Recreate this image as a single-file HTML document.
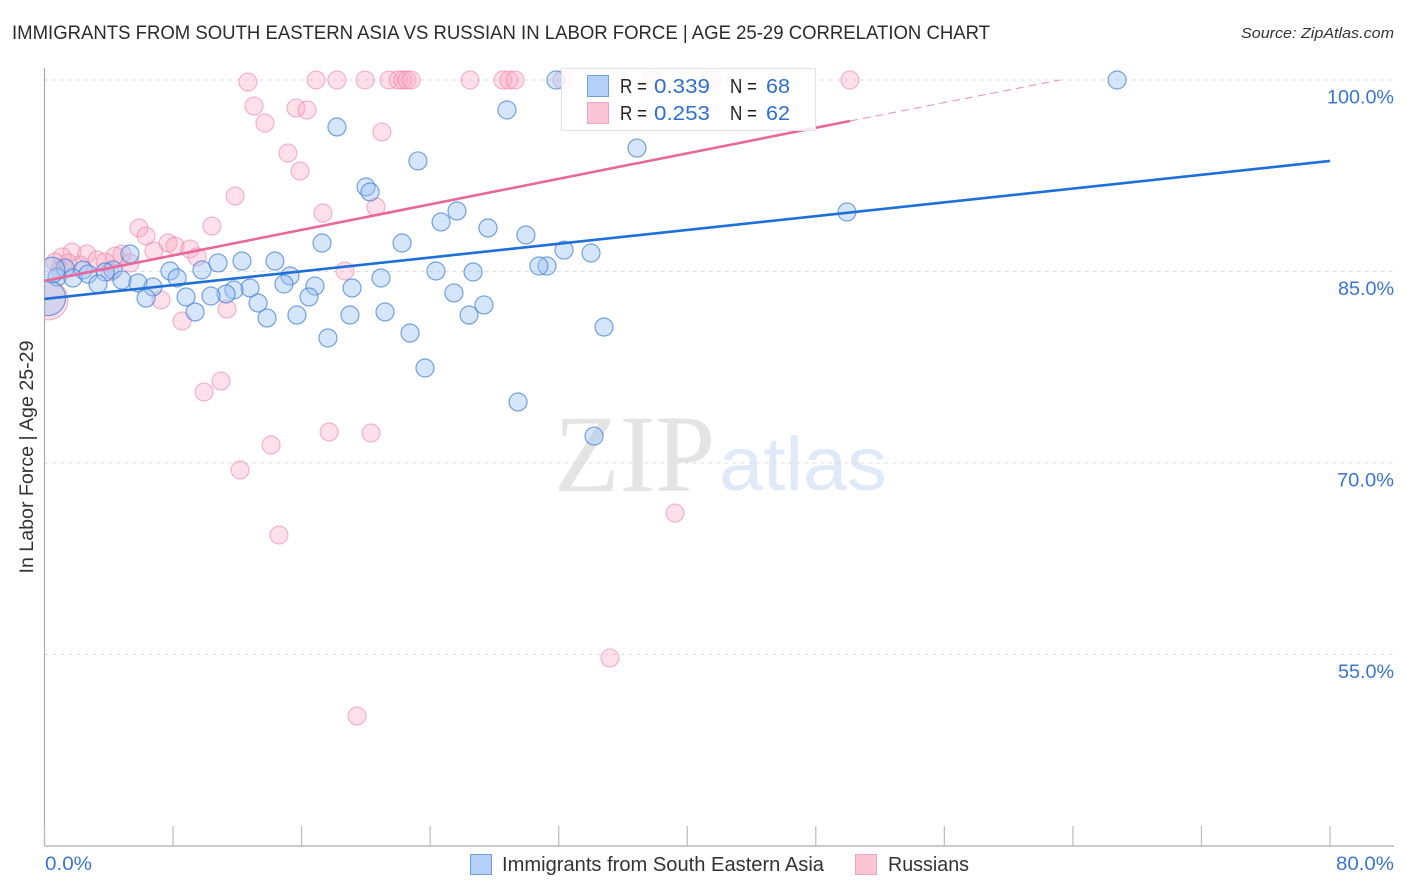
<!DOCTYPE html>
<html lang="en">
<head>
<meta charset="utf-8">
<title>Immigrants from South Eastern Asia vs Russian in Labor Force Correlation Chart</title>
<style>
html,body{margin:0;padding:0;background:#fff;width:1406px;height:892px;overflow:hidden}
svg{display:block;font-family:"Liberation Sans",sans-serif}
</style>
</head>
<body>
<svg id="chart" xmlns="http://www.w3.org/2000/svg" width="1406" height="892" viewBox="0 0 1406 892">
  <text x="12" y="39" font-size="19.5" fill="#2b2b2b" textLength="978" lengthAdjust="spacingAndGlyphs">IMMIGRANTS FROM SOUTH EASTERN ASIA VS RUSSIAN IN LABOR FORCE | AGE 25-29 CORRELATION CHART</text>
  <text x="1394" y="38" font-size="15" font-style="italic" fill="#333" text-anchor="end" textLength="153" lengthAdjust="spacingAndGlyphs">Source: ZipAtlas.com</text>
  <g>
    <text x="554" y="491" font-family="'Liberation Serif',serif" font-size="110" fill="#e4e4e4" textLength="161" lengthAdjust="spacingAndGlyphs">ZIP</text>
    <text x="719" y="490" font-size="76" fill="#dfe9f8" textLength="168" lengthAdjust="spacingAndGlyphs">atlas</text>
  </g>
  <g id="grid"></g>
  <g id="marks"></g>
  <rect x="0" y="60" width="44" height="786" fill="#fff"/>
  <g id="axes"></g>
  <g id="trends"></g>
  <g>
    <rect x="561.5" y="68.5" width="254" height="62" fill="#fff" fill-opacity="0.84" stroke="#e2e2e2" stroke-width="1"/>
    <rect x="587.5" y="75.5" width="21" height="21" fill="#b5d0f8" stroke="#6f9fdc"/>
    <rect x="587.5" y="102.5" width="21" height="21" fill="#fcc5d6" stroke="#f4a3bc"/>
    <g font-size="20">
      <text x="620" y="93" fill="#222" textLength="27" lengthAdjust="spacingAndGlyphs">R =</text>
      <text x="654" y="93" fill="#2f6fd0" textLength="56" lengthAdjust="spacingAndGlyphs">0.339</text>
      <text x="730" y="93" fill="#222" textLength="27" lengthAdjust="spacingAndGlyphs">N =</text>
      <text x="766" y="93" fill="#2f6fd0" textLength="24" lengthAdjust="spacingAndGlyphs">68</text>
      <text x="620" y="120" fill="#222" textLength="27" lengthAdjust="spacingAndGlyphs">R =</text>
      <text x="654" y="120" fill="#2f6fd0" textLength="56" lengthAdjust="spacingAndGlyphs">0.253</text>
      <text x="730" y="120" fill="#222" textLength="27" lengthAdjust="spacingAndGlyphs">N =</text>
      <text x="766" y="120" fill="#2f6fd0" textLength="24" lengthAdjust="spacingAndGlyphs">62</text>
    </g>
  </g>
  <text transform="translate(33,457) rotate(-90)" font-size="19" fill="#333" text-anchor="middle" textLength="233" lengthAdjust="spacingAndGlyphs">In Labor Force | Age 25-29</text>
  <g>
    <rect x="470.5" y="854.5" width="21" height="20" fill="#b5d0f8" stroke="#6f9fdc"/>
    <text x="502" y="871" font-size="20" fill="#333" textLength="322" lengthAdjust="spacingAndGlyphs">Immigrants from South Eastern Asia</text>
    <rect x="855.5" y="854.5" width="21" height="20" fill="#fcc5d6" stroke="#f4a3bc"/>
    <text x="888" y="871" font-size="20" fill="#333" textLength="81" lengthAdjust="spacingAndGlyphs">Russians</text>
  </g>
</svg>
<script>
const xTickValues = [0, 8, 16, 24, 32, 40, 48, 56, 64, 72, 80];
const xEdgeLabels = ["0.0%", "80.0%"];
const yTickValues = [100, 85, 70, 55];
const yTickLabels = ["100.0%", "85.0%", "70.0%", "55.0%"];

const blueX = [66.75,31.83,28.78,18.20,23.24,36.87,20.01,20.26,49.94,25.67,24.68,27.60,29.96,17.27,22.25,32.33,34.01,5.32,10.80,12.29,14.34,31.27,30.77,1.28,2.40,4.26,3.77,7.81,9.80,24.36,26.67,15.28,20.94,8.25,0.78,1.77,2.71,4.82,3.33,5.82,6.75,14.90,12.79,11.79,11.30,16.83,19.14,25.48,8.81,10.36,16.46,6.32,13.29,27.35,21.19,9.37,13.85,15.71,19.01,26.42,34.82,17.64,22.75,23.68,29.47,34.20,0.22,0.47];
const blueY = [100,100,97.65,96.32,93.66,94.67,91.62,91.23,89.66,89.74,88.88,88.41,87.86,87.23,87.23,86.68,86.45,86.37,85.67,85.82,85.82,85.43,85.43,85.27,85.12,85.12,84.96,85.04,85.12,85.04,84.96,84.65,84.49,84.49,84.57,84.49,84.80,84.33,84.02,84.10,83.79,84.02,83.71,83.55,83.24,83.86,83.71,83.32,83.00,83.08,83.00,82.92,82.53,82.38,81.83,81.83,81.36,81.59,81.59,81.59,80.65,79.79,80.18,77.44,74.78,72.11,82.92,85.12];
const blueLargeIndex = [66, 67];
const blueLargeWeight = [3.8, 2];

const pinkX = [12.66,16.90,18.20,19.95,21.44,22.00,22.31,22.56,22.81,26.48,28.53,28.90,29.28,32.21,37.81,41.54,50.13,13.04,15.65,16.34,13.72,21.00,15.15,15.90,11.86,20.63,17.33,10.42,5.88,6.32,7.69,8.12,9.05,9.49,6.81,4.82,4.39,5.32,1.71,1.09,2.64,3.27,3.77,2.21,1.46,0.65,0.96,18.70,7.25,11.36,8.56,10.98,9.93,17.71,20.32,14.10,12.17,14.59,39.24,35.19,19.45,0.22,4.08];
const pinkY = [99.84,100,100,100,100,100,100,100,100,100,100,100,100,100,100,100,100,97.96,97.81,97.65,96.63,95.93,94.28,92.87,90.91,90.05,89.58,88.56,88.41,87.78,87.23,87.00,86.76,86.14,86.61,86.37,86.21,85.67,86.53,86.14,86.37,85.90,85.74,85.51,85.67,85.74,85.12,85.04,82.77,82.06,81.12,76.42,75.56,72.43,72.35,71.41,69.45,64.36,66.08,54.73,50.18,82.77,84.96];
const pinkLargeIndex = [61];
const pinkLargeWeight = [4.9];

const blueTrendX = [0, 80];
const blueTrendY = [82.85, 93.66];
const pinkTrendX = [0, 50.13];
const pinkTrendY = [84.26, 96.79];
const pinkTrendDashX = [50.13, 63.2];
const pinkTrendDashY = [96.79, 100];

const NS = "http://www.w3.org/2000/svg";
const plotLeft = 44.5, plotRight = 1330, plotBottom = 846;
function xScale(v) { return plotLeft + (v / 80) * (plotRight - plotLeft); }
function yScale(v) { return 80 + (100 - v) * (191.5 / 15); }
function radius(weight) { return 9 * Math.sqrt(weight); }
function make(tag, attrs, parent) {
  const el = document.createElementNS(NS, tag);
  for (const k in attrs) el.setAttribute(k, attrs[k]);
  parent.appendChild(el);
  return el;
}

const grid = document.getElementById("grid");
const axes = document.getElementById("axes");
const marks = document.getElementById("marks");
const trends = document.getElementById("trends");
const yLabelWidths = [67, 56, 57, 56];

yTickValues.forEach(function (v, i) {
  const line = make("line", {x1: plotLeft, x2: 1394, y1: yScale(v), y2: yScale(v), stroke: "#dcdcdc", "stroke-width": 1, "stroke-dasharray": "4 4"}, grid);
  
  
  const label = make("text", {x: 1394, y: yScale(v) + 23.5, "text-anchor": "end", "font-size": 19, fill: "#3a75d4", textLength: yLabelWidths[i], lengthAdjust: "spacingAndGlyphs"}, axes);
  
  
  label.textContent = yTickLabels[i];
});

const yAxis = make("line", {x1: plotLeft, x2: plotLeft, y1: 68, y2: plotBottom, stroke: "#aaa", "stroke-width": 1.2}, axes);


const xAxis = make("line", {x1: plotLeft, x2: 1394, y1: plotBottom, y2: plotBottom, stroke: "#aaa", "stroke-width": 1.2}, axes);



xTickValues.forEach(function (v) {
  const tick = make("line", {x1: xScale(v), x2: xScale(v), y1: 826, y2: plotBottom, stroke: "#bbb", "stroke-width": 1.2}, axes);
  
  
});

const xLabelLeft = make("text", {x: 45, y: 870, "font-size": 19, fill: "#3a75d4", textLength: 47, lengthAdjust: "spacingAndGlyphs"}, axes);


xLabelLeft.textContent = xEdgeLabels[0];
const xLabelRight = make("text", {x: 1394, y: 870, "text-anchor": "end", "font-size": 19, fill: "#3a75d4", textLength: 58, lengthAdjust: "spacingAndGlyphs"}, axes);


xLabelRight.textContent = xEdgeLabels[1];

pinkX.forEach(function (x, i) {
  const k = pinkLargeIndex.indexOf(i);
  const w = k >= 0 ? pinkLargeWeight[k] : 1;
  const c = make("circle", {cx: xScale(x), cy: yScale(pinkY[i]), r: radius(w), fill: "#f9a8c2", "fill-opacity": 0.36, stroke: "#ee7fa2", "stroke-opacity": 0.55, "stroke-width": 1.2}, marks);
  
  
});
blueX.forEach(function (x, i) {
  const k = blueLargeIndex.indexOf(i);
  const w = k >= 0 ? blueLargeWeight[k] : 1;
  const c = make("circle", {cx: xScale(x), cy: yScale(blueY[i]), r: radius(w), fill: "#9cc2f2", "fill-opacity": 0.42, stroke: "#3f7fd6", "stroke-opacity": 0.7, "stroke-width": 1.2}, marks);
  
  
});

const blueLine = make("line", {x1: xScale(blueTrendX[0]), y1: yScale(blueTrendY[0]), x2: xScale(blueTrendX[1]), y2: yScale(blueTrendY[1]), stroke: "#1f6fd8", "stroke-width": 2.6}, trends);


const pinkLine = make("line", {x1: xScale(pinkTrendX[0]), y1: yScale(pinkTrendY[0]), x2: xScale(pinkTrendX[1]), y2: yScale(pinkTrendY[1]), stroke: "#e9689a", "stroke-width": 2.6}, trends);


const pinkDash = make("line", {x1: xScale(pinkTrendDashX[0]), y1: yScale(pinkTrendDashY[0]), x2: xScale(pinkTrendDashX[1]), y2: yScale(pinkTrendDashY[1]), stroke: "#ee8fb0", "stroke-width": 1, "stroke-dasharray": "8 5"}, trends);


</script>
</body>
</html>
